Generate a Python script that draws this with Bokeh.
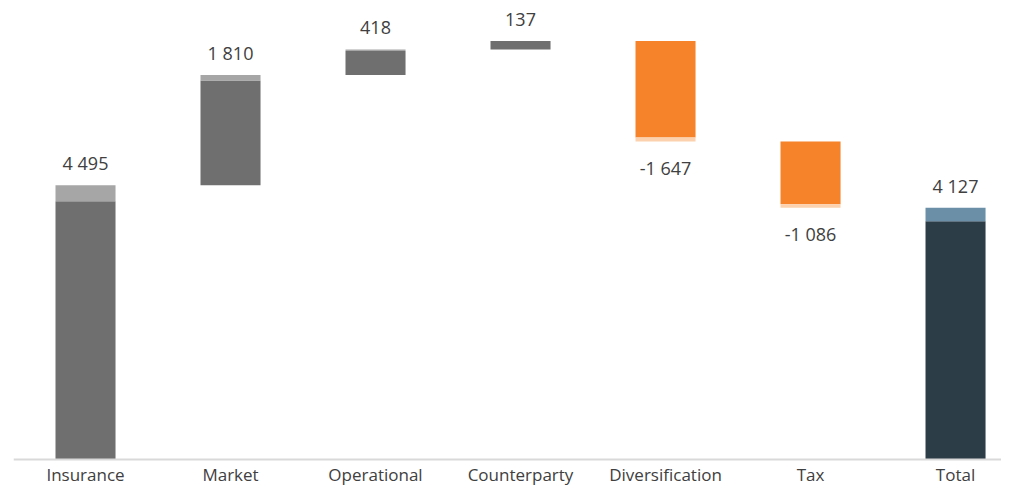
from bokeh.plotting import figure
from bokeh.models import ColumnDataSource, LabelSet, Span, Range1d
from bokeh.core.properties import value
from bokeh.embed import file_html
from bokeh.resources import INLINE

categories = ["Insurance", "Market", "Operational", "Counterparty", "Diversification", "Tax", "Total"]
values = [4495, 1810, 418, 137, -1647, -1086, 4127]
caps = [260, 90, 25, 0, 65, 57, 222]
labels = ["4 495", "1 810", "418", "137", "-1 647", "-1 086", "4 127"]

body_colors = ["#6f6f6f", "#6f6f6f", "#6f6f6f", "#6f6f6f", "#f6822a", "#f6822a", "#2c3d48"]
cap_colors = ["#a6a6a6", "#a6a6a6", "#a6a6a6", "#a6a6a6", "#fcd2ae", "#fcd2ae", "#6a8fa6"]

FONT = value("Open Sans")

# build waterfall geometry from values
xs, b_bot, b_top, c_bot, c_top, lab_y, lab_off = [], [], [], [], [], [], []
run = 0
for i, (v, c) in enumerate(zip(values, caps)):
    if i == len(values) - 1:
        start, end = 0, v
    else:
        start, end = run, run + v
        run = end
    xs.append(i)
    if v >= 0:
        b_bot.append(start); b_top.append(end - c)
        c_bot.append(end - c); c_top.append(end)
        lab_off.append(15)
    else:
        b_bot.append(end + c); b_top.append(start)
        c_bot.append(end); c_top.append(end + c)
        lab_off.append(-33)
    lab_y.append(end)

src = ColumnDataSource(dict(x=xs, b_bot=b_bot, b_top=b_top, c_bot=c_bot, c_top=c_top,
                            bc=body_colors, cc=cap_colors, lab=labels, ly=lab_y, loff=lab_off,
                            cat=categories, zero=[0] * len(xs)))

p = figure(width=1001, height=487, output_backend="svg", toolbar_location=None,
           x_axis_location=None, y_axis_location=None,
           x_range=Range1d(-0.4966, 6.317), y_range=Range1d(-459, 7525),
           min_border_left=13, min_border_right=0, min_border_top=0, min_border_bottom=0)
p.outline_line_color = None
p.grid.visible = False
p.background_fill_color = "white"

p.vbar(x="x", bottom="b_bot", top="b_top", width=0.414, fill_color="bc", line_color=None, source=src)
p.vbar(x="x", bottom="c_bot", top="c_top", width=0.414, fill_color="cc", line_color=None, source=src)

p.add_layout(Span(location=0, dimension="width", line_color="#d9d9d9", line_width=2))

vl = LabelSet(x="x", y="ly", text="lab", y_offset="loff", source=src, text_align="center",
              text_baseline="alphabetic", text_font=FONT, text_font_size=value("18px"),
              text_color="#404040")
p.add_layout(vl)

cl = LabelSet(x="x", y="zero", text="cat", y_offset=-21, source=src, text_align="center",
              text_baseline="alphabetic", text_font=FONT, text_font_size=value("17px"),
              text_color="#404040")
p.add_layout(cl)

open("out.html", "w").write(file_html(p, INLINE))
